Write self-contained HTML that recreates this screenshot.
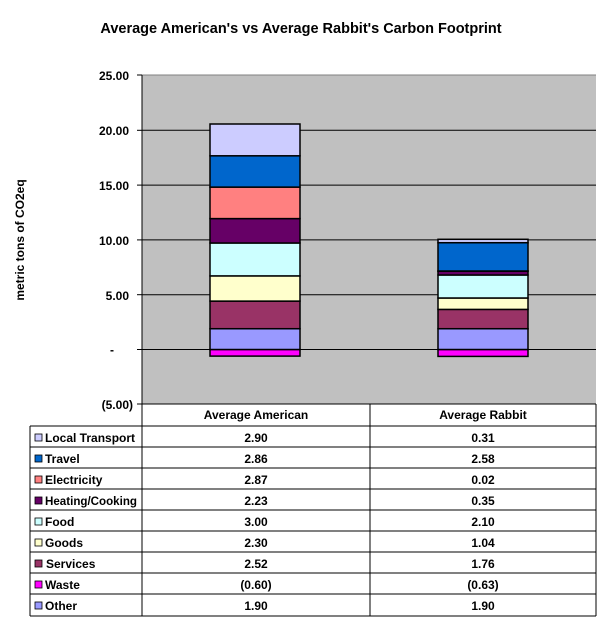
<!DOCTYPE html>
<html><head><style>body{margin:0;background:#fff}svg{display:block}text{font-family:"Liberation Sans",Arial,sans-serif;font-weight:bold}</style></head>
<body>
<svg width="607" height="628" viewBox="0 0 607 628" xmlns="http://www.w3.org/2000/svg">
<text x="301" y="33" font-size="14.5" text-anchor="middle">Average American's vs Average Rabbit's Carbon Footprint</text>
<text transform="translate(24,240) rotate(-90)" font-size="12" text-anchor="middle">metric tons of CO2eq</text>
<rect x="142" y="75" width="454" height="329" fill="#c0c0c0"/>
<line x1="142" y1="75" x2="596" y2="75" stroke="#808080"/>
<g stroke="#000" stroke-width="1">
<line x1="142" y1="130.3" x2="596" y2="130.3"/>
<line x1="142" y1="185.1" x2="596" y2="185.1"/>
<line x1="142" y1="239.9" x2="596" y2="239.9"/>
<line x1="142" y1="294.7" x2="596" y2="294.7"/>
<line x1="142" y1="349.5" x2="596" y2="349.5"/>
<line x1="142" y1="75" x2="142" y2="404"/>
<line x1="137" y1="75" x2="142" y2="75"/><line x1="137" y1="130.3" x2="142" y2="130.3"/><line x1="137" y1="185.1" x2="142" y2="185.1"/><line x1="137" y1="239.9" x2="142" y2="239.9"/><line x1="137" y1="294.7" x2="142" y2="294.7"/><line x1="137" y1="349.5" x2="142" y2="349.5"/><line x1="137" y1="404" x2="142" y2="404"/>
</g>
<g font-size="12" text-anchor="end">
<text x="129" y="80">25.00</text><text x="129" y="135">20.00</text><text x="129" y="190">15.00</text><text x="129" y="245">10.00</text><text x="129" y="300">5.00</text><text x="114" y="354">-</text><text x="133" y="409">(5.00)</text>
</g>
<g stroke="#000" stroke-width="1.5">
<rect x="210" y="349.5" width="90" height="6.6" fill="#ff00ff"/>
<rect x="210" y="328.7" width="90" height="20.8" fill="#9999ff"/>
<rect x="210" y="301.1" width="90" height="27.6" fill="#993366"/>
<rect x="210" y="275.9" width="90" height="25.2" fill="#ffffcc"/>
<rect x="210" y="243.0" width="90" height="32.9" fill="#ccffff"/>
<rect x="210" y="218.6" width="90" height="24.4" fill="#660066"/>
<rect x="210" y="187.1" width="90" height="31.5" fill="#ff8080"/>
<rect x="210" y="155.8" width="90" height="31.3" fill="#0066cc"/>
<rect x="210" y="124.0" width="90" height="31.8" fill="#ccccff"/>
<rect x="438" y="349.5" width="90" height="6.9" fill="#ff00ff"/>
<rect x="438" y="328.7" width="90" height="20.8" fill="#9999ff"/>
<rect x="438" y="309.4" width="90" height="19.3" fill="#993366"/>
<rect x="438" y="298.0" width="90" height="11.4" fill="#ffffcc"/>
<rect x="438" y="275.0" width="90" height="23.0" fill="#ccffff"/>
<rect x="438" y="271.2" width="90" height="3.8" fill="#660066"/>
<rect x="438" y="271.0" width="90" height="0.2" fill="#ff8080"/>
<rect x="438" y="242.7" width="90" height="28.3" fill="#0066cc"/>
<rect x="438" y="239.3" width="90" height="3.4" fill="#ccccff"/>
</g>
<g stroke="#000" stroke-width="1" fill="none">
<line x1="142" y1="404" x2="596" y2="404"/>
<line x1="142" y1="404" x2="142" y2="616"/>
<line x1="370" y1="404" x2="370" y2="616"/>
<line x1="596" y1="404" x2="596" y2="616"/>
<line x1="30" y1="426" x2="30" y2="616"/>
<line x1="30" y1="426" x2="596" y2="426"/><line x1="30" y1="447" x2="596" y2="447"/><line x1="30" y1="468" x2="596" y2="468"/><line x1="30" y1="489" x2="596" y2="489"/><line x1="30" y1="510" x2="596" y2="510"/><line x1="30" y1="531" x2="596" y2="531"/><line x1="30" y1="552" x2="596" y2="552"/><line x1="30" y1="573" x2="596" y2="573"/><line x1="30" y1="594" x2="596" y2="594"/><line x1="30" y1="616" x2="596" y2="616"/>
</g>
<g font-size="12" text-anchor="middle">
<text x="256" y="419">Average American</text><text x="483" y="419">Average Rabbit</text>
</g>
<g stroke="#000" stroke-width="0.8">
<rect x="35" y="434" width="7" height="7" fill="#ccccff"/><rect x="35" y="455" width="7" height="7" fill="#0066cc"/><rect x="35" y="476" width="7" height="7" fill="#ff8080"/><rect x="35" y="497" width="7" height="7" fill="#660066"/><rect x="35" y="518" width="7" height="7" fill="#ccffff"/><rect x="35" y="539" width="7" height="7" fill="#ffffcc"/><rect x="35" y="560" width="7" height="7" fill="#993366"/><rect x="35" y="581" width="7" height="7" fill="#ff00ff"/><rect x="35" y="602" width="7" height="7" fill="#9999ff"/>
</g>
<g font-size="12">
<text x="45" y="442">Local Transport</text><text x="45" y="463">Travel</text><text x="45" y="484">Electricity</text><text x="45" y="505" textLength="92" lengthAdjust="spacingAndGlyphs">Heating/Cooking</text><text x="45" y="526">Food</text><text x="45" y="547">Goods</text><text x="46" y="568">Services</text><text x="45" y="589">Waste</text><text x="45" y="610">Other</text>
</g>
<g font-size="12" text-anchor="middle">
<text x="256" y="442">2.90</text><text x="256" y="463">2.86</text><text x="256" y="484">2.87</text><text x="256" y="505">2.23</text><text x="256" y="526">3.00</text><text x="256" y="547">2.30</text><text x="256" y="568">2.52</text><text x="256" y="589">(0.60)</text><text x="256" y="610">1.90</text>
<text x="483" y="442">0.31</text><text x="483" y="463">2.58</text><text x="483" y="484">0.02</text><text x="483" y="505">0.35</text><text x="483" y="526">2.10</text><text x="483" y="547">1.04</text><text x="483" y="568">1.76</text><text x="483" y="589">(0.63)</text><text x="483" y="610">1.90</text>
</g>
</svg>
</body></html>
